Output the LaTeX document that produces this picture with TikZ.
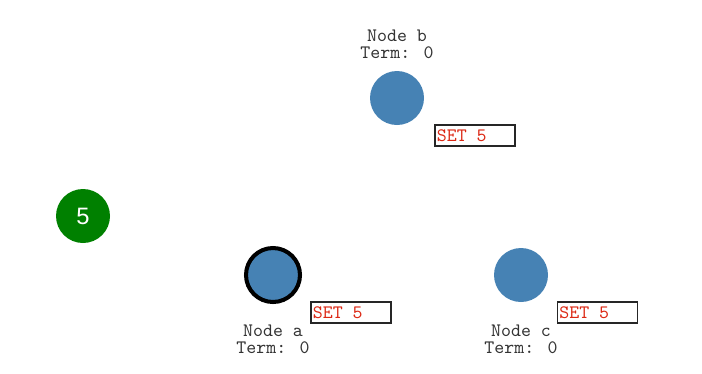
\documentclass[tikz,border=0pt]{standalone}
\usepackage{fontspec}
\setmainfont{Liberation Sans}
\usetikzlibrary{positioning}
\definecolor{steel}{RGB}{70,130,180}
\definecolor{leadgreen}{RGB}{0,128,0}
\definecolor{msgred}{RGB}{220,40,20}
\newcommand{\courier}{\ttfamily\fontsize{10.8}{12}\selectfont}

\begin{document}
\begin{tikzpicture}[
    x=0.02cm, y=-0.02cm,
    server/.style={circle, fill=steel, minimum size=54*0.02cm, inner sep=0pt},
    leader/.style={server, draw=black, line width=2.3pt},
    info/.style={font=\courier, text=black!80, inner sep=0pt, text height=6.3pt, text depth=1.4pt},
    msg/.style={rectangle, draw=black!85, line width=0.6pt, minimum width=80*0.02cm, minimum height=21*0.02cm, inner sep=0pt},
    msgtext/.style={font=\courier, text=msgred, inner sep=0pt, anchor=west},
    timer/.style={circle, fill=leadgreen, minimum size=54*0.02cm, inner sep=0pt, text=white, font=\fontsize{13.5}{14}\selectfont}
]
\useasboundingbox (0,0) rectangle (702,373);

% Nodes
\node (nb) [server] at (397,98) {};
\node (na) [leader] at (273,275) {};
\node (nc) [server] at (521,275) {};
\node (tm) [timer] at (83,216) {5};

% Labels
\node (lbname) [info] at (397,37.5) {Node b};
\node (lbterm) [info] at (397,54.5) {Term: 0};
\node (laname) [info] at (273,332.5) {Node a};
\node (laterm) [info] at (273,349.5) {Term: 0};
\node (lcname) [info] at (521,332.5) {Node c};
\node (lcterm) [info] at (521,349.5) {Term: 0};

% Messages
\node (mb) [msg] at (475,135.5) {};
\node (ma) [msg] at (351,312.5) {};
\node (mc) [msg] at (597.5,312.5) {};
\node [msgtext] at ([xshift=2*0.02cm]mb.west) {SET 5};
\node [msgtext] at ([xshift=2*0.02cm]ma.west) {SET 5};
\node [msgtext] at ([xshift=2*0.02cm]mc.west) {SET 5};

\end{tikzpicture}
\end{document}
